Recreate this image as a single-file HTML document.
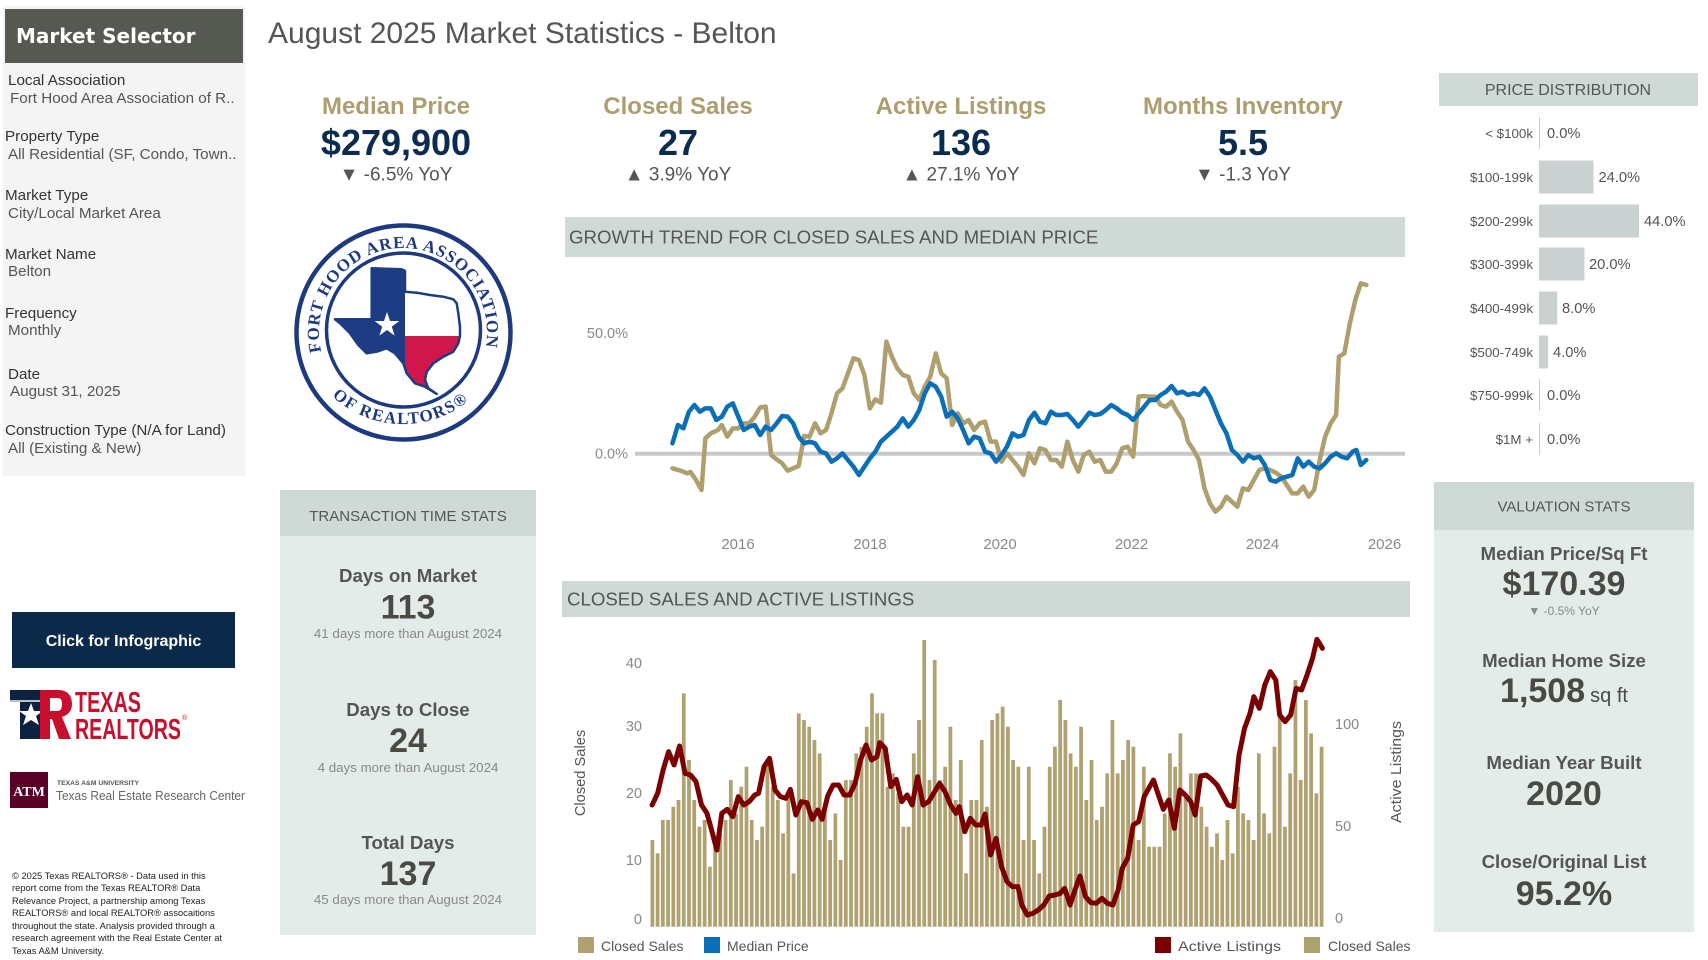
<!DOCTYPE html>
<html><head><meta charset="utf-8"><style>
html,body{margin:0;padding:0;background:#fff;}
svg{display:block;font-family:"Liberation Sans",Arial,sans-serif;}
</style></head><body>
<svg width="1708" height="960" viewBox="0 0 1708 960" xmlns="http://www.w3.org/2000/svg">
<!-- LEFT PANEL -->
<rect x="3" y="6" width="242" height="470" fill="#f4f4f4"/>
<rect x="5" y="9" width="238" height="54" fill="#565852"/>
<text x="16" y="43" font-family="DejaVu Sans, sans-serif" font-weight="bold" font-size="20" fill="#fff">Market Selector</text>
<g font-size="15.2" fill="#333">
<text x="8" y="85">Local Association</text>
<text x="10" y="103" fill="#555">Fort Hood Area Association of R..</text>
<text x="5" y="141">Property Type</text>
<text x="8" y="159" fill="#555">All Residential (SF, Condo, Town..</text>
<text x="5" y="200">Market Type</text>
<text x="8" y="218" fill="#555">City/Local Market Area</text>
<text x="5" y="259">Market Name</text>
<text x="8" y="276" fill="#555">Belton</text>
<text x="5" y="318">Frequency</text>
<text x="8" y="335" fill="#555">Monthly</text>
<text x="8" y="379">Date</text>
<text x="10" y="396" fill="#555">August 31, 2025</text>
<text x="5" y="435">Construction Type (N/A for Land)</text>
<text x="8" y="453" fill="#555">All (Existing &amp; New)</text>
</g>

<!-- Button -->
<rect x="12" y="612" width="223" height="56" fill="#0b2a4a"/>
<text x="123.5" y="646" text-anchor="middle" font-weight="bold" font-size="16" fill="#fff">Click for Infographic</text>

<!-- Texas Realtors logo -->
<rect x="10" y="690" width="37" height="10" fill="#0d2240"/>
<rect x="10" y="700" width="37" height="2" fill="#b8c0c8"/>
<rect x="20" y="702" width="27" height="37" fill="#0d2240"/>
<polygon points="31,703 34,711 43,711 36,716 39,725 31,720 23,725 26,716 19,711 28,711" fill="#fff"/>
<path d="M40,690 H58 C68,690 72,696 72,704 C72,711 68,715 62,717 L71,739 H59 L52,719 H50 V739 H40 Z M50,698 V711 H57 C61,711 62,708 62,704 C62,700 61,698 57,698 Z" fill="#c8102e" fill-rule="evenodd"/>
<text x="75" y="712" font-family="Liberation Sans Narrow, Liberation Sans, sans-serif" font-weight="bold" font-size="29" fill="#c8102e" textLength="66" lengthAdjust="spacingAndGlyphs">TEXAS</text>
<text x="75" y="739" font-family="Liberation Sans Narrow, Liberation Sans, sans-serif" font-weight="bold" font-size="29" fill="#c8102e" textLength="106" lengthAdjust="spacingAndGlyphs">REALTORS</text>
<text x="182" y="720" font-size="7" fill="#c8102e">®</text>

<!-- TAMU -->
<rect x="10" y="772" width="38" height="36" fill="#5a0026"/>
<text x="29" y="796" text-anchor="middle" font-family="Liberation Serif, serif" font-weight="bold" font-size="14" fill="#fff">ATM</text>
<text x="57" y="785" font-weight="bold" font-size="6.5" fill="#555" textLength="82" lengthAdjust="spacingAndGlyphs">TEXAS A&amp;M UNIVERSITY</text>
<text x="56" y="800" font-size="13" fill="#666" textLength="189" lengthAdjust="spacingAndGlyphs">Texas Real Estate Research Center</text>

<!-- Footnote -->
<g font-size="9.33" fill="#222">
<text x="12" y="879">© 2025 Texas REALTORS® - Data used in this</text>
<text x="12" y="891">report come from the Texas REALTOR® Data</text>
<text x="12" y="904">Relevance Project, a partnership among Texas</text>
<text x="12" y="916">REALTORS® and local REALTOR® assocaitions</text>
<text x="12" y="929">throughout the state. Analysis provided through a</text>
<text x="12" y="941">research agreement with the Real Estate Center at</text>
<text x="12" y="954">Texas A&amp;M University.</text>
</g>

<!-- TITLE -->
<text x="268" y="43" font-size="30" fill="#555">August 2025 Market Statistics - Belton</text>

<!-- KPIs -->
<g text-anchor="middle">
<g font-weight="bold" font-size="24" fill="#ad9e6f">
<text x="396" y="114">Median Price</text>
<text x="678" y="114">Closed Sales</text>
<text x="961" y="114">Active Listings</text>
<text x="1243" y="114">Months Inventory</text>
</g>
<g font-weight="bold" font-size="36" fill="#0b2c4e">
<text x="396" y="155">$279,900</text>
<text x="678" y="155">27</text>
<text x="961" y="155">136</text>
<text x="1243" y="155">5.5</text>
</g>
<g font-size="19" fill="#555">
<text x="396" y="180.5">▼ -6.5% YoY</text>
<text x="678" y="180.5">▲ 3.9% YoY</text>
<text x="961" y="180.5">▲ 27.1% YoY</text>
<text x="1243" y="180.5">▼ -1.3 YoY</text>
</g>
</g>

<!-- Fort Hood logo -->
<defs>
<clipPath id="tx"><polygon points="371.7,268.3 401.7,269.3 405,271 405,291.7 416.7,292.7 430,295 443.3,296.7 453.3,299.3 456.7,303.3 458.3,313.3 460,326.7 460,336 458.3,343.3 453.3,351.7 443.3,356.7 433.3,363.3 426.7,371.7 425,380 428.3,388.3 436.7,394 425,386.7 415,383.3 406.7,373.3 403.3,363.3 395,353.3 386.7,348.3 376.7,351.7 366.7,353.3 358.3,345 350,333.3 340,323.3 335,319.3 371.7,319.3"/></clipPath>
<path id="arcTop" d="M321.3,351.6 A84,84 0 1 1 485,350.2"/>
<path id="arcBot" d="M332.1,396.1 A104,104 0 0 0 473.9,396.1"/>
</defs>
<circle cx="403.5" cy="332.5" r="107" fill="#fff" stroke="#1d3a80" stroke-width="4.5"/>
<circle cx="403.5" cy="330" r="77" fill="none" stroke="#1d3a80" stroke-width="3.5"/>
<g clip-path="url(#tx)">
<rect x="330" y="260" width="75" height="140" fill="#1d3c84"/>
<rect x="405" y="260" width="70" height="76" fill="#fff"/>
<rect x="405" y="336" width="70" height="66" fill="#d0174b"/>
</g>
<polygon points="371.7,268.3 401.7,269.3 405,271 405,291.7 416.7,292.7 430,295 443.3,296.7 453.3,299.3 456.7,303.3 458.3,313.3 460,326.7 460,336 458.3,343.3 453.3,351.7 443.3,356.7 433.3,363.3 426.7,371.7 425,380 428.3,388.3 436.7,394 425,386.7 415,383.3 406.7,373.3 403.3,363.3 395,353.3 386.7,348.3 376.7,351.7 366.7,353.3 358.3,345 350,333.3 340,323.3 335,319.3 371.7,319.3" fill="none" stroke="#1d3c84" stroke-width="2.5" stroke-linejoin="round"/>
<polygon points="387,312 390,321 399.4,321 391.8,326.6 394.6,335.6 387,330 379.4,335.6 382.2,326.6 374.6,321 384,321" fill="#fff"/>
<text font-family="Liberation Serif, serif" font-weight="bold" font-size="17" fill="#1d3a80"><textPath href="#arcTop" textLength="298" lengthAdjust="spacing">FORT HOOD AREA ASSOCIATION</textPath></text>
<text font-family="Liberation Serif, serif" font-weight="bold" font-size="17" fill="#1d3a80"><textPath href="#arcBot" textLength="148" lengthAdjust="spacing">OF REALTORS®</textPath></text>

<!-- TRANSACTION TIME STATS -->
<rect x="280" y="490" width="256" height="445" fill="#e4ecea"/>
<rect x="280" y="490" width="256" height="46" fill="#cfdad6"/>
<g text-anchor="middle">
<text x="408" y="521" font-size="15" fill="#555">TRANSACTION TIME STATS</text>
<g font-weight="bold" font-size="18.67" fill="#555">
<text x="408" y="582">Days on Market</text>
<text x="408" y="716">Days to Close</text>
<text x="408" y="849">Total Days</text>
</g>
<g font-weight="bold" font-size="34" fill="#4a4a44">
<text x="408" y="618.5">113</text>
<text x="408" y="752">24</text>
<text x="408" y="885">137</text>
</g>
<g font-size="13.33" fill="#888">
<text x="408" y="638">41 days more than August 2024</text>
<text x="408" y="772">4 days more than August 2024</text>
<text x="408" y="904">45 days more than August 2024</text>
</g>
</g>

<!-- GROWTH TREND CHART -->
<rect x="565" y="217" width="840" height="40" fill="#cfdad6"/>
<text x="569" y="243.5" font-size="18.67" fill="#555">GROWTH TREND FOR CLOSED SALES AND MEDIAN PRICE</text>
<g font-size="14.5" fill="#888" text-anchor="end">
<text x="628" y="338">50.0%</text>
<text x="628" y="458.5">0.0%</text>
</g>
<g font-size="15" fill="#888" text-anchor="middle">
<text x="738" y="549">2016</text>
<text x="870" y="549">2018</text>
<text x="1000" y="549">2020</text>
<text x="1131.5" y="549">2022</text>
<text x="1262.5" y="549">2024</text>
<text x="1384.5" y="549">2026</text>
</g>
<line x1="635" y1="453.7" x2="1405" y2="453.7" stroke="#c9c9c9" stroke-width="4"/>
<g transform="translate(560,260) scale(0.5485,0.33333)" fill="none" stroke-linejoin="round" stroke-linecap="round">
<polyline vector-effect="non-scaling-stroke" stroke="#ae9f6e" stroke-width="4.5" points="205,625 220,632 232,640 238,636 248,660 258,690 265,535 275,520 288,510 295,495 305,530 315,505 325,505 335,490 345,490 355,470 365,442 375,440 385,585 395,598 405,610 415,632 425,625 435,618 445,528 455,530 465,490 475,520 485,510 495,460 505,400 515,385 525,340 535,295 545,300 555,345 565,445 575,418 585,428 595,245 605,290 615,325 625,345 635,350 645,400 655,420 665,380 675,350 685,280 695,340 705,355 715,495 725,460 735,490 745,480 755,510 765,490 775,485 785,545 795,545 805,605 815,580 825,600 835,620 845,645 855,580 865,610 875,565 885,570 895,600 905,600 915,620 925,545 935,600 945,635 955,585 965,575 975,605 985,600 995,635 1005,635 1015,610 1025,565 1035,560 1045,590 1055,410 1065,408 1075,410 1085,410 1095,435 1105,440 1115,425 1125,455 1135,480 1145,545 1155,570 1165,600 1175,685 1185,730 1195,755 1205,740 1215,710 1225,725 1235,740 1245,685 1255,690 1265,660 1275,630 1285,625 1295,630 1305,638 1315,650 1325,675 1335,700 1345,700 1355,680 1365,710 1375,690 1385,600 1395,530 1405,490 1415,465 1420,290 1430,280 1440,190 1450,120 1460,70 1470,75"/>
<polyline vector-effect="non-scaling-stroke" stroke="#0b6fb8" stroke-width="4.5" points="205,550 215,495 225,505 235,455 245,435 255,455 265,445 275,445 285,480 295,470 305,440 315,430 325,470 335,510 345,500 355,495 365,525 375,500 385,510 395,490 405,468 415,470 425,490 435,530 445,550 455,545 465,550 475,575 485,580 495,605 505,595 515,580 525,600 535,620 545,645 555,620 565,595 575,575 585,545 595,530 605,515 615,500 625,475 635,500 645,480 655,450 665,400 675,370 685,380 695,410 705,470 715,455 725,475 735,510 745,550 755,530 765,535 775,575 785,580 795,605 805,585 815,560 825,520 835,530 845,525 855,480 865,458 875,485 885,490 895,455 905,465 915,465 925,462 935,480 945,500 955,480 965,458 975,465 985,462 995,450 1005,435 1015,445 1025,458 1035,465 1045,480 1055,460 1065,440 1075,420 1085,420 1095,405 1105,395 1115,378 1125,400 1135,395 1145,405 1155,400 1165,405 1175,385 1185,410 1195,450 1205,490 1215,520 1225,570 1235,585 1245,605 1255,585 1265,595 1275,590 1285,615 1295,660 1305,665 1315,655 1325,650 1335,645 1345,595 1355,620 1365,605 1375,620 1385,625 1395,610 1405,590 1415,580 1425,590 1435,595 1445,575 1452,570 1460,615 1470,600"/>
</g>

<!-- CLOSED SALES AND ACTIVE LISTINGS -->
<rect x="562" y="581" width="848" height="36" fill="#cfdad6"/>
<text x="567" y="605.5" font-size="18.67" fill="#555">CLOSED SALES AND ACTIVE LISTINGS</text>
<g font-size="14.5" fill="#888">
<g text-anchor="end">
<text x="642" y="668">40</text>
<text x="642" y="731">30</text>
<text x="642" y="798">20</text>
<text x="642" y="865">10</text>
<text x="642" y="924">0</text>
</g>
<text x="1335" y="729">100</text>
<text x="1335" y="831">50</text>
<text x="1335" y="923">0</text>
</g>
<text transform="translate(585,773) rotate(-90)" text-anchor="middle" font-size="14.67" fill="#555">Closed Sales</text>
<text transform="translate(1401,772) rotate(-90)" text-anchor="middle" font-size="15" fill="#555" textLength="102" lengthAdjust="spacingAndGlyphs">Active Listings</text>
<path transform="translate(650.5,926.7) scale(5.228,-6.667)" fill="#b0a171" d="M0,0v13h.72v-13m.28,0v11h.72v-11m.28,0v16h.72v-16m.28,0v16h.72v-16m.28,0v18h.72v-18m.28,0v19h.72v-19m.28,0v35h.72v-35m.28,0v25h.72v-25m.28,0v19h.72v-19m.28,0v15h.72v-15m.28,0v16h.72v-16m.28,0v9h.72v-9m.28,0v12h.72v-12m.28,0v14h.72v-14m.28,0v16h.72v-16m.28,0v22h.72v-22m.28,0v17h.72v-17m.28,0v21h.72v-21m.28,0v24h.72v-24m.28,0v16h.72v-16m.28,0v13h.72v-13m.28,0v15h.72v-15m.28,0v25h.72v-25m.28,0v21h.72v-21m.28,0v19h.72v-19m.28,0v14h.72v-14m.28,0v20h.72v-20m.28,0v8h.72v-8m.28,0v32h.72v-32m.28,0v31h.72v-31m.28,0v30h.72v-30m.28,0v28h.72v-28m.28,0v26h.72v-26m.28,0v17h.72v-17m.28,0v13h.72v-13m.28,0v17h.72v-17m.28,0v10h.72v-10m.28,0v22h.72v-22m.28,0v22h.72v-22m.28,0v26h.72v-26m.28,0v27h.72v-27m.28,0v30h.72v-30m.28,0v35h.72v-35m.28,0v32h.72v-32m.28,0v32h.72v-32m.28,0v21h.72v-21m.28,0v23h.72v-23m.28,0v20h.72v-20m.28,0v15h.72v-15m.28,0v15h.72v-15m.28,0v26h.72v-26m.28,0v31h.72v-31m.28,0v43h.72v-43m.28,0v22h.72v-22m.28,0v40h.72v-40m.28,0v22h.72v-22m.28,0v24h.72v-24m.28,0v30h.72v-30m.28,0v19h.72v-19m.28,0v25h.72v-25m.28,0v8h.72v-8m.28,0v19h.72v-19m.28,0v19h.72v-19m.28,0v28h.72v-28m.28,0v18h.72v-18m.28,0v31h.72v-31m.28,0v32h.72v-32m.28,0v33h.72v-33m.28,0v30h.72v-30m.28,0v25h.72v-25m.28,0v24h.72v-24m.28,0v13h.72v-13m.28,0v24h.72v-24m.28,0v13h.72v-13m.28,0v8h.72v-8m.28,0v15h.72v-15m.28,0v24h.72v-24m.28,0v27h.72v-27m.28,0v34h.72v-34m.28,0v31h.72v-31m.28,0v26h.72v-26m.28,0v24h.72v-24m.28,0v30h.72v-30m.28,0v19h.72v-19m.28,0v25h.72v-25m.28,0v16h.72v-16m.28,0v18h.72v-18m.28,0v23h.72v-23m.28,0v31h.72v-31m.28,0v23h.72v-23m.28,0v25h.72v-25m.28,0v28h.72v-28m.28,0v27h.72v-27m.28,0v13h.72v-13m.28,0v24h.72v-24m.28,0v12h.72v-12m.28,0v12h.72v-12m.28,0v12h.72v-12m.28,0v17h.72v-17m.28,0v26h.72v-26m.28,0v24h.72v-24m.28,0v29h.72v-29m.28,0v20h.72v-20m.28,0v23h.72v-23m.28,0v23h.72v-23m.28,0v18h.72v-18m.28,0v15h.72v-15m.28,0v12h.72v-12m.28,0v14h.72v-14m.28,0v10h.72v-10m.28,0v16h.72v-16m.28,0v11h.72v-11m.28,0v21h.72v-21m.28,0v17h.72v-17m.28,0v16h.72v-16m.28,0v13h.72v-13m.28,0v26h.72v-26m.28,0v17h.72v-17m.28,0v14h.72v-14m.28,0v27h.72v-27m.28,0v32h.72v-32m.28,0v15h.72v-15m.28,0v23h.72v-23m.28,0v37h.72v-37m.28,0v22h.72v-22m.28,0v34h.72v-34m.28,0v29h.72v-29m.28,0v20h.72v-20m.28,0v27h.72v-27"/>
<g transform="translate(560,620) scale(0.5485,0.33333)" fill="none" stroke-linejoin="round" stroke-linecap="round">
<polyline vector-effect="non-scaling-stroke" stroke="#7b0000" stroke-width="5" points="168,555 178,520 188,450 198,395 208,435 218,378 228,460 238,465 248,485 258,555 268,580 278,640 286,690 295,580 305,568 315,590 325,530 335,555 345,545 355,525 362,520 372,440 382,415 392,510 402,530 412,535 420,508 430,585 440,545 450,548 460,598 470,570 478,598 488,528 498,495 508,495 518,525 528,525 538,490 548,420 558,375 568,420 578,410 583,368 593,385 603,500 613,478 623,545 633,525 642,555 652,470 662,555 672,545 682,518 692,490 702,515 712,555 722,580 728,560 738,635 748,595 758,615 768,615 775,582 785,705 795,655 805,740 815,785 825,800 835,800 842,855 852,885 862,880 872,870 882,855 892,828 902,825 912,820 920,805 930,855 940,805 948,768 958,830 968,848 978,850 988,835 998,850 1008,855 1018,808 1025,745 1035,715 1045,615 1055,605 1065,530 1075,500 1082,480 1090,520 1100,568 1110,540 1120,625 1130,510 1140,525 1150,545 1158,585 1168,468 1178,465 1188,478 1198,495 1208,525 1218,555 1228,560 1238,405 1248,325 1258,280 1265,230 1275,265 1285,195 1295,155 1305,180 1312,285 1322,305 1332,285 1342,205 1352,210 1362,165 1372,115 1380,58 1390,85"/>
</g>
<!-- legend -->
<rect x="578" y="937" width="16" height="16" fill="#b0a171"/>
<rect x="704" y="937" width="16" height="16" fill="#0b6fb8"/>
<rect x="1155" y="937" width="16" height="16" fill="#7b0000"/>
<rect x="1304" y="937" width="16" height="16" fill="#b0a171"/>
<g font-size="14" fill="#555">
<text x="601" y="951">Closed Sales</text>
<text x="727" y="951">Median Price</text>
<text x="1178" y="951" textLength="103" lengthAdjust="spacingAndGlyphs">Active Listings</text>
<text x="1328" y="951">Closed Sales</text>
</g>

<!-- PRICE DISTRIBUTION -->
<rect x="1439" y="73" width="259" height="33" fill="#cfdad6"/>
<text x="1568" y="95" text-anchor="middle" font-size="16" fill="#555">PRICE DISTRIBUTION</text>
<g stroke="#cccccc" stroke-width="1">
<line x1="1539.5" y1="117" x2="1539.5" y2="149"/>
<line x1="1539.5" y1="379" x2="1539.5" y2="411"/>
<line x1="1539.5" y1="423" x2="1539.5" y2="455"/>
</g>
<g fill="#cbd1d1">
<rect x="1539" y="160.5" width="54.5" height="33"/>
<rect x="1539" y="204.5" width="100" height="33"/>
<rect x="1539" y="247.5" width="45.4" height="33"/>
<rect x="1539" y="291.5" width="18.2" height="33"/>
<rect x="1539" y="335.5" width="9.1" height="33"/>
</g>
<g font-size="13.33" fill="#555" text-anchor="end">
<text x="1533" y="138">&lt; $100k</text>
<text x="1533" y="182">$100-199k</text>
<text x="1533" y="226">$200-299k</text>
<text x="1533" y="269">$300-399k</text>
<text x="1533" y="313">$400-499k</text>
<text x="1533" y="357">$500-749k</text>
<text x="1533" y="400">$750-999k</text>
<text x="1533" y="444">$1M +</text>
</g>
<g font-size="14.67" fill="#555">
<text x="1547" y="138">0.0%</text>
<text x="1598.5" y="182">24.0%</text>
<text x="1644" y="226">44.0%</text>
<text x="1589" y="269">20.0%</text>
<text x="1562" y="313">8.0%</text>
<text x="1553" y="357">4.0%</text>
<text x="1547" y="400">0.0%</text>
<text x="1547" y="444">0.0%</text>
</g>

<!-- VALUATION STATS -->
<rect x="1434" y="482" width="260" height="450" fill="#e4ecea"/>
<rect x="1434" y="482" width="260" height="48" fill="#cfdad6"/>
<g text-anchor="middle">
<text x="1564" y="511.5" font-size="15" fill="#555">VALUATION STATS</text>
<g font-weight="bold" font-size="18.67" fill="#555">
<text x="1564" y="560">Median Price/Sq Ft</text>
<text x="1564" y="667">Median Home Size</text>
<text x="1564" y="769">Median Year Built</text>
<text x="1564" y="868">Close/Original List</text>
</g>
<g font-weight="bold" font-size="34" fill="#4a4a44">
<text x="1564" y="595">$170.39</text>
<text x="1564" y="805">2020</text>
<text x="1564" y="905">95.2%</text>
</g>
<text x="1564" y="615" font-size="12" fill="#888">▼ -0.5% YoY</text>
<text x="1564" y="702" fill="#4a4a44"><tspan font-weight="bold" font-size="34">1,508</tspan><tspan font-size="20" dx="5">sq ft</tspan></text>
</g>
</svg>
</body></html>
